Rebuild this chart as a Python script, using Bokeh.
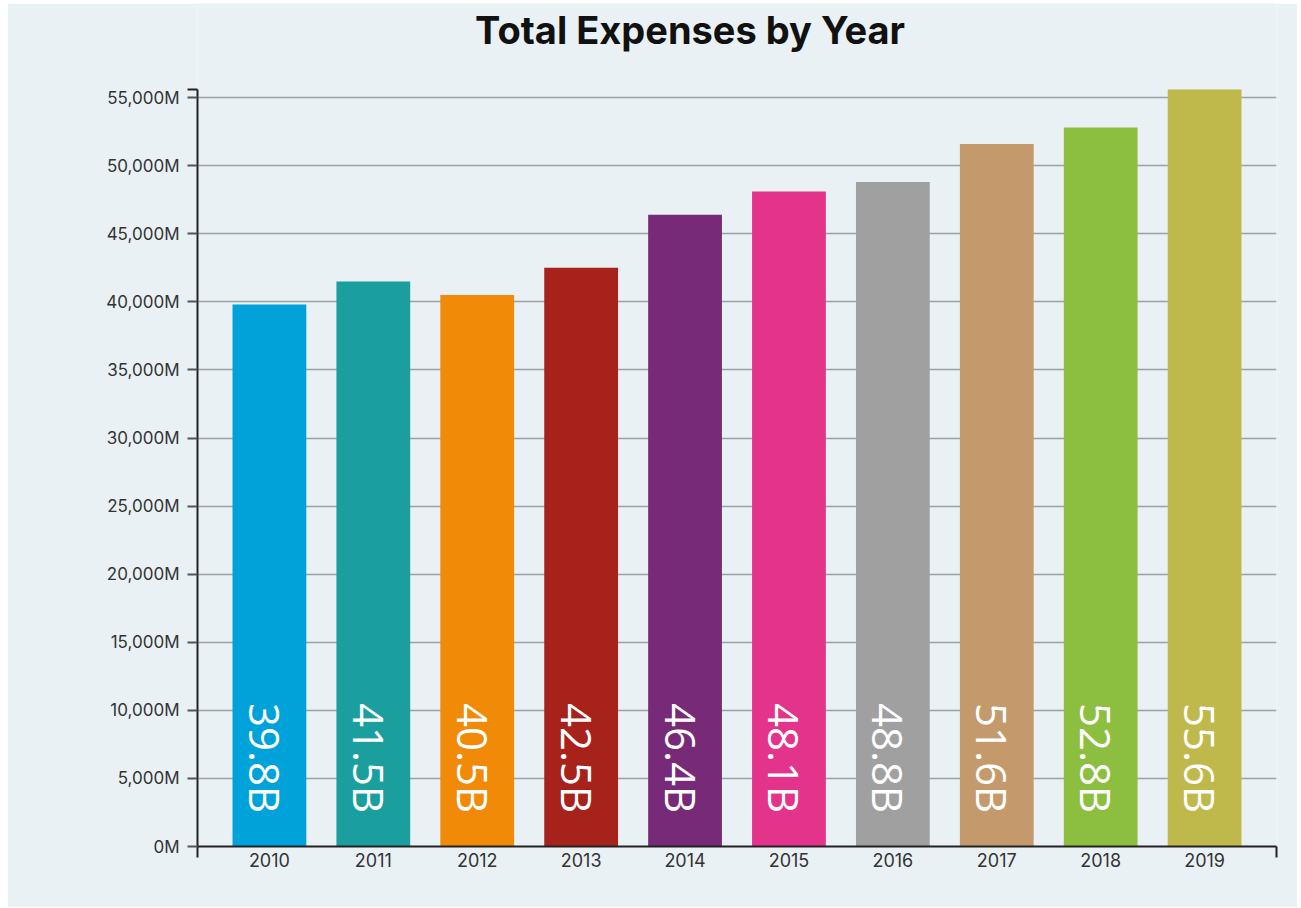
import math
from bokeh.plotting import figure
from bokeh.layouts import row, column
from bokeh.models import ColumnDataSource, Range1d, FixedTicker, CustomJSTickFormatter, Spacer, Label
from bokeh.core.properties import value
from bokeh.embed import file_html
from bokeh.resources import INLINE

# ---- data ----
years = ["2010", "2011", "2012", "2013", "2014", "2015", "2016", "2017", "2018", "2019"]
expenses_b = [39.8, 41.5, 40.5, 42.5, 46.4, 48.1, 48.8, 51.6, 52.8, 55.6]  # billions
colors = ["#00A3D9", "#1A9E9E", "#F08A07", "#A8221C", "#772A77",
          "#E3338A", "#A0A0A0", "#C49A6C", "#8CBF40", "#BFB84A"]
y_ticks = [0, 5000, 10000, 15000, 20000, 25000, 30000, 35000, 40000, 45000, 50000, 55000]
chart_title = "Total Expenses by Year"

BG = "#E9F1F5"

idx = list(range(len(years)))
values_m = [v * 1000 for v in expenses_b]
labels = [f"{v:.1f}B" for v in expenses_b]

src = ColumnDataSource(dict(x=idx, top=values_m, color=colors, label=labels,
                            ly=[6500] * len(idx)))

pad = 0.692
x_start, x_end = -pad, len(years) - 1 + pad
y_end = max(values_m)
# axis occupies 757px of plot height; 86px of headroom above it holds the title
unit_per_px = y_end / 757.0
y_top = y_end + 86 * unit_per_px

p = figure(width=1290, height=904, output_backend="svg", toolbar_location=None,
           x_range=Range1d(x_start, x_end), y_range=Range1d(0, y_top),
           min_border_left=190, min_border_right=21, min_border_top=0, min_border_bottom=61)
p.background_fill_color = BG
p.border_fill_color = BG
p.outline_line_color = None

p.vbar(x="x", top="top", bottom=0, width=0.71, color="color", line_color=None, source=src)

p.text(x="x", y="ly", text="label", source=src, angle=-math.pi / 2,
       text_align="center", text_baseline="middle", text_color="white",
       text_font=value("Open Sans"), text_font_size="42px", x_offset=-4)

# grid
p.xgrid.grid_line_color = None
p.ygrid.grid_line_color = "#9DA1A5"
p.ygrid.grid_line_width = 1.6
p.ygrid.ticker = FixedTicker(ticks=y_ticks)

# y axis
yax = p.yaxis[0]
yax.bounds = (0, y_end)
yax.ticker = FixedTicker(ticks=y_ticks, minor_ticks=[y_end])
yax.formatter = CustomJSTickFormatter(code="return tick.toLocaleString('en-US') + 'M';")
yax.axis_line_color = "#222222"
yax.axis_line_width = 2
yax.major_tick_line_color = "#555555"
yax.major_tick_line_width = 2
yax.major_tick_out = 10
yax.major_tick_in = 0
yax.minor_tick_line_color = "#222222"
yax.minor_tick_line_width = 2
yax.minor_tick_out = 10
yax.minor_tick_in = 0
yax.major_label_standoff = 8
yax.major_label_text_font = "Inter"
yax.major_label_text_font_size = "17px"
yax.major_label_text_color = "#333333"

# x axis
xax = p.xaxis[0]
xax.ticker = FixedTicker(ticks=idx, minor_ticks=[x_start, x_end])
xax.major_label_overrides = {i: y for i, y in zip(idx, years)}
xax.axis_line_color = "#222222"
xax.axis_line_width = 2
xax.major_tick_line_color = None
xax.major_tick_out = 0
xax.major_tick_in = 0
xax.minor_tick_line_color = "#222222"
xax.minor_tick_line_width = 2
xax.minor_tick_out = 11
xax.minor_tick_in = 0
xax.major_label_standoff = -5
xax.major_label_text_font = "Inter"
xax.major_label_text_font_size = "18px"
xax.major_label_text_color = "#333333"

# title (inside the headroom of the frame)
title = Label(x=x_start + 493 / 104.0, y=y_end + 60 * unit_per_px, text=chart_title,
              text_align="center", text_baseline="middle",
              text_font="Inter", text_font_style="bold", text_font_size="38px",
              text_color="#111111")
p.add_layout(title)

layout = row(Spacer(width=7), column(Spacer(height=3), p))

open("out.html", "w").write(file_html(layout, INLINE))
